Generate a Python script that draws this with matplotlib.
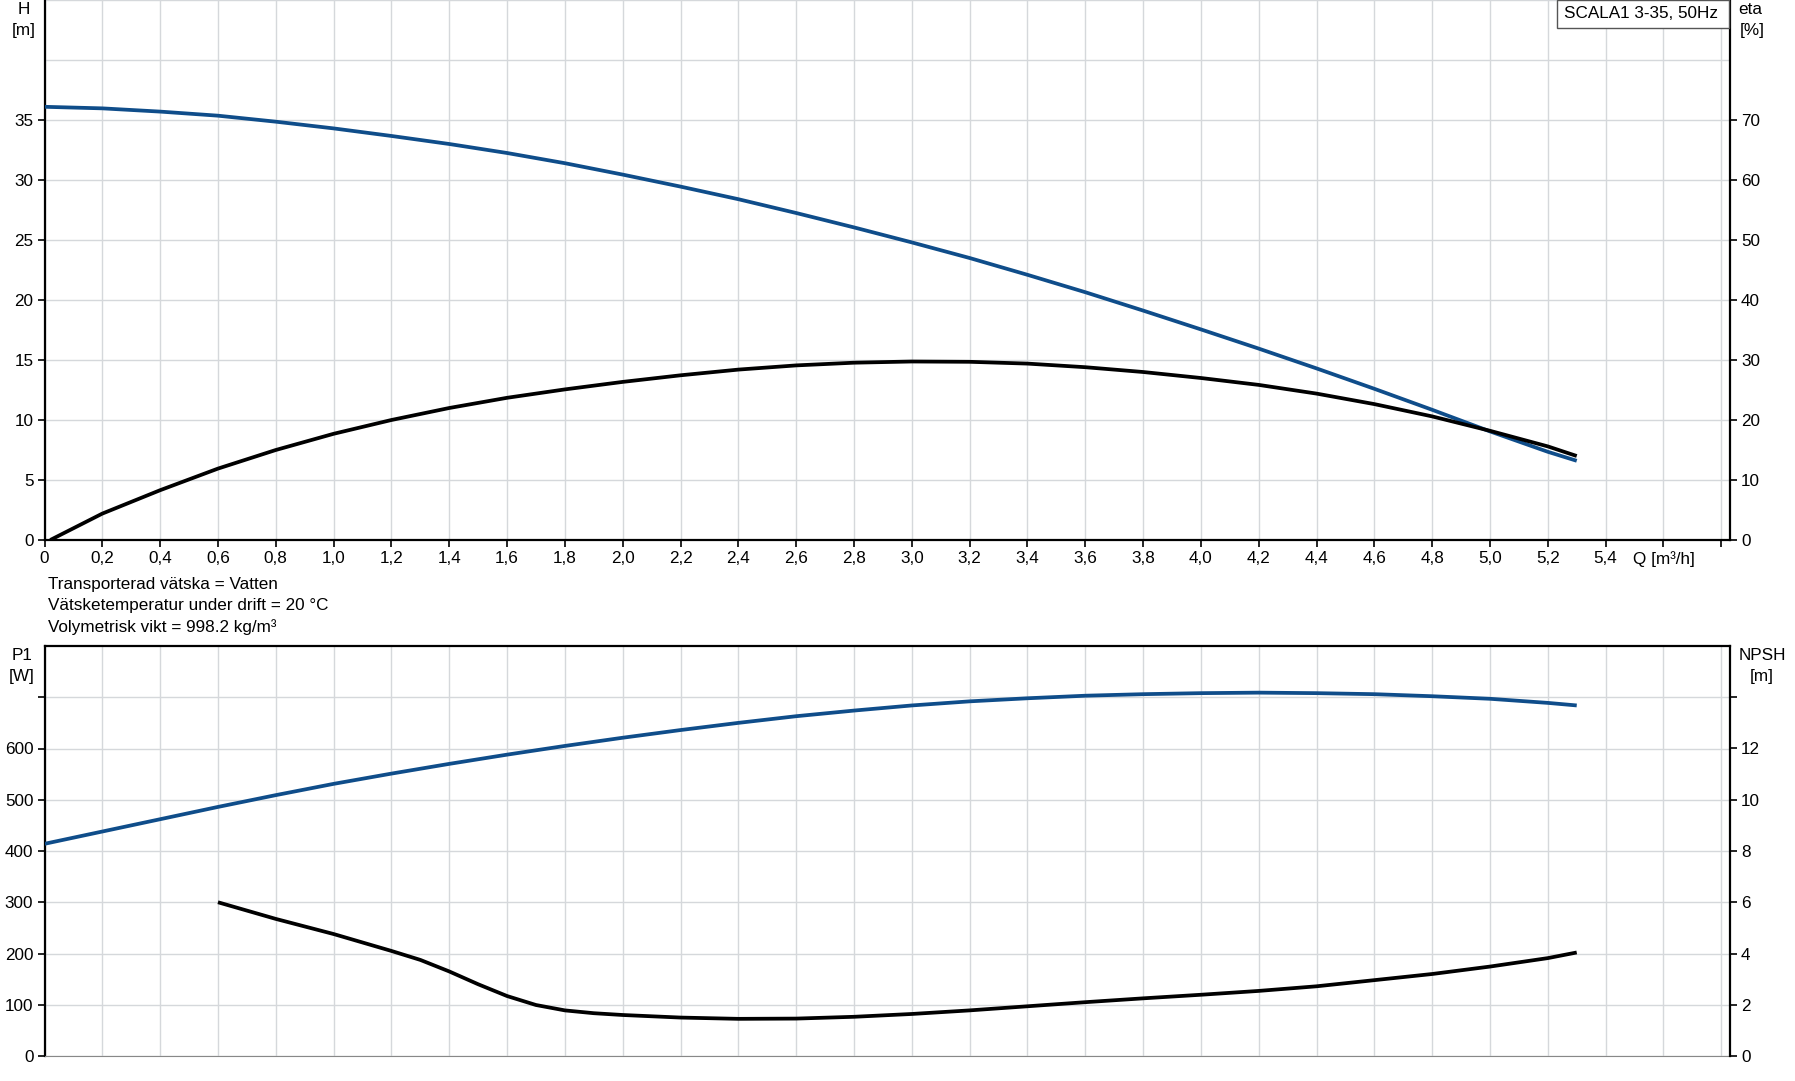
import matplotlib
matplotlib.use("Agg")
import matplotlib.pyplot as plt
from matplotlib.patches import Rectangle

plt.rcParams["font.family"] = ["Liberation Sans", "DejaVu Sans"]
plt.rcParams["font.size"] = 12.3

# --- data ---
q_h = [0.0, 0.2, 0.4, 0.6, 0.8, 1.0, 1.2, 1.4, 1.6, 1.8, 2.0, 2.2, 2.4, 2.6,
       2.8, 3.0, 3.2, 3.4, 3.6, 3.8, 4.0, 4.2, 4.4, 4.6, 4.8, 5.0, 5.2, 5.3]
head = [36.1, 35.97, 35.7, 35.36, 34.86, 34.3, 33.67, 33.0, 32.25, 31.4, 30.45,
        29.45, 28.4, 27.25, 26.05, 24.8, 23.5, 22.1, 20.65, 19.12, 17.55, 15.95,
        14.3, 12.6, 10.85, 9.05, 7.35, 6.6]

q_eta = [0.02, 0.2, 0.4, 0.6, 0.8, 1.0, 1.2, 1.4, 1.6, 1.8, 2.0, 2.2, 2.4, 2.6,
         2.8, 3.0, 3.2, 3.4, 3.6, 3.8, 4.0, 4.2, 4.4, 4.6, 4.8, 5.0, 5.2, 5.3]
eta = [0.0, 4.4, 8.3, 11.9, 15.0, 17.7, 20.0, 22.0, 23.7, 25.1, 26.35, 27.45,
       28.4, 29.1, 29.55, 29.75, 29.7, 29.4, 28.8, 28.0, 27.0, 25.85, 24.4, 22.65,
       20.6, 18.2, 15.6, 14.0]

q_p1 = [0.0, 0.2, 0.4, 0.6, 0.8, 1.0, 1.2, 1.4, 1.6, 1.8, 2.0, 2.2, 2.4, 2.6,
        2.8, 3.0, 3.2, 3.4, 3.6, 3.8, 4.0, 4.2, 4.4, 4.6, 4.8, 5.0, 5.2, 5.3]
p1 = [414, 438, 462, 486, 509, 531, 551, 570, 588, 605, 621, 636, 650, 663,
      674, 684, 692, 698, 703, 706, 708, 709, 708, 706, 702, 697, 689, 684]

q_npsh = [0.6, 0.8, 1.0, 1.2, 1.3, 1.4, 1.5, 1.6, 1.7, 1.8, 1.9, 2.0, 2.2, 2.4,
          2.6, 2.8, 3.0, 3.2, 3.4, 3.6, 3.8, 4.0, 4.2, 4.4, 4.6, 4.8, 5.0, 5.2, 5.3]
npsh = [6.0, 5.35, 4.76, 4.1, 3.75, 3.3, 2.8, 2.34, 1.99, 1.78, 1.67, 1.60,
        1.50, 1.45, 1.46, 1.53, 1.64, 1.78, 1.94, 2.10, 2.25, 2.39, 2.54, 2.72,
        2.96, 3.20, 3.49, 3.82, 4.04]

x_ticks = [round(0.2 * i, 1) for i in range(30)]
x_labels = ["0"] + [f"{v:.1f}".replace(".", ",") for v in x_ticks[1:28]] + ["Q [m³/h]", ""]
notes = ["Transporterad vätska = Vatten",
         "Vätsketemperatur under drift = 20 °C",
         "Volymetrisk vikt = 998.2 kg/m³"]
title = "SCALA1 3-35, 50Hz"

BLUE = "#0f4d8a"
GRID = "#d5d8db"
W, H = 1795, 1081
X0, X1 = 44.5, 1730
XMAX = (X1 - X0) / 289.1


def style(ax, twin, spine_lw=1.6):
    ax.set_xlim(0, XMAX)
    ax.grid(True, which="both", color=GRID, lw=1.0)
    ax.set_axisbelow(True)
    ax.spines["top"].set_visible(False)
    ax.spines["right"].set_visible(False)
    ax.spines["left"].set_linewidth(spine_lw)
    for s in ["top", "left", "bottom"]:
        twin.spines[s].set_visible(False)
    twin.spines["right"].set_linewidth(spine_lw)
    ax.tick_params(axis="y", direction="out", length=5, width=1.2, pad=3)
    twin.tick_params(axis="y", direction="out", length=5, width=1.2, pad=3)


fig = plt.figure(figsize=(W / 100, H / 100), dpi=100)

# --- top chart: H and eta ---
ax = fig.add_axes([X0 / W, 1 - 540 / H, (X1 - X0) / W, 540 / H])
ax2 = ax.twinx()
style(ax, ax2)
ax.set_ylim(0, 45)
ax2.set_ylim(0, 90)
ax.set_yticks(range(0, 40, 5))
ax.set_yticks([40, 45], minor=True)
ax.tick_params(axis="y", which="minor", length=0)
ax2.set_yticks(range(0, 80, 10))
ax.set_xticks(x_ticks)
ax.set_xticklabels(x_labels)
ax.tick_params(axis="x", direction="out", length=5, width=1.2, pad=3)
ax.spines["bottom"].set_linewidth(1.6)
ax.plot(q_h, head, color=BLUE, lw=2.7, solid_capstyle="butt", zorder=3)
ax2.plot(q_eta, eta, color="black", lw=2.7, solid_capstyle="butt", zorder=3)

fig.text(24 / W, 1 - 10 / H, "H", ha="center", va="center")
fig.text(24 / W, 1 - 30 / H, "[m]", ha="center", va="center")
fig.text(1750 / W, 1 - 10 / H, "eta", ha="center", va="center")
fig.text(1752 / W, 1 - 31 / H, "[%]", ha="center", va="center")

fig.patches.append(Rectangle((1557 / W, 1 - 28 / H), 172 / W, 28 / H,
                             transform=fig.transFigure, facecolor="white",
                             edgecolor="#555555", lw=1.0, zorder=5))
fig.text(1564 / W, 1 - 14 / H, title, ha="left", va="center", zorder=6)

for i, line in enumerate(notes):
    fig.text(48 / W, 1 - (584 + 21.5 * i) / H, line, ha="left", va="center")

# --- bottom chart: P1 and NPSH ---
bx = fig.add_axes([X0 / W, 1 - 1056 / H, (X1 - X0) / W, 410 / H])
bx2 = bx.twinx()
style(bx, bx2)
bx.spines["top"].set_visible(True)
bx.spines["top"].set_linewidth(1.6)
bx.spines["bottom"].set_color("#888888")
bx.set_ylim(0, 800)
bx2.set_ylim(0, 16)
bx.set_yticks(range(0, 800, 100))
bx.set_yticklabels([str(v) for v in range(0, 700, 100)] + [""])
bx2.set_yticks(range(0, 16, 2))
bx2.set_yticklabels([str(v) for v in range(0, 14, 2)] + [""])
bx.set_xticks(x_ticks)
bx.tick_params(axis="x", length=0, labelbottom=False)
bx.plot(q_p1, p1, color=BLUE, lw=2.7, solid_capstyle="butt", zorder=3)
bx2.plot(q_npsh, npsh, color="black", lw=2.7, solid_capstyle="butt", zorder=3)

fig.text(22 / W, 1 - 656 / H, "P1", ha="center", va="center")
fig.text(22 / W, 1 - 677 / H, "[W]", ha="center", va="center")
fig.text(1762 / W, 1 - 656 / H, "NPSH", ha="center", va="center")
fig.text(1762 / W, 1 - 677 / H, "[m]", ha="center", va="center")

fig.savefig("out.png", dpi=100)
plt.close(fig)
